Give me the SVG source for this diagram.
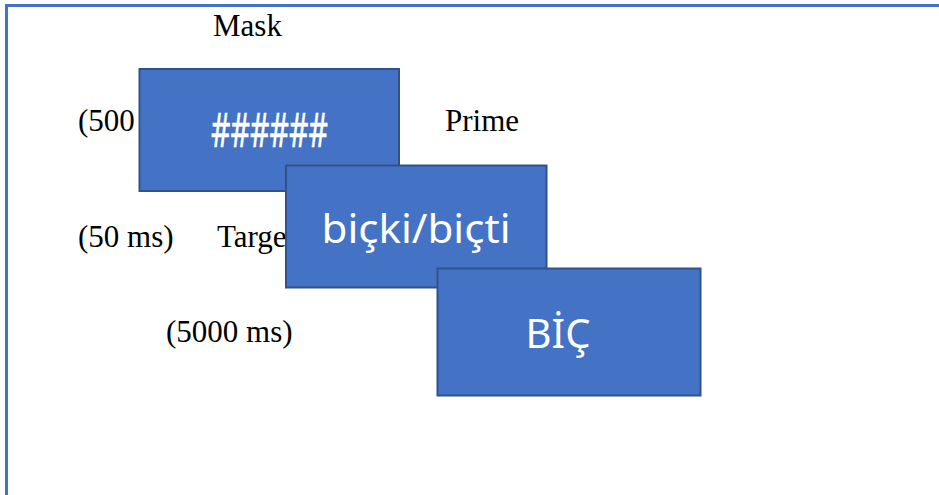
<svg xmlns="http://www.w3.org/2000/svg" width="939" height="495" viewBox="0 0 939 495">
<style>
.lbl{font-family:"Liberation Serif","Times New Roman",serif;font-size:31px;fill:#000}
.box{fill:#4472C4;stroke:#2F528F;stroke-width:2}
.bt{font-family:"Noto Sans","Open Sans",sans-serif;font-size:40px;fill:#fff;text-anchor:middle}
.frame{stroke:#4472C4;stroke-width:3;fill:none}
</style>
<rect width="939" height="495" fill="#fff"/>
<g id="frame">
<line class="frame" x1="5" y1="5.5" x2="939" y2="5.5"/>
<line class="frame" x1="6.5" y1="4" x2="6.5" y2="495"/>
</g>
<g id="labels">
<text class="lbl" x="213" y="36">Mask</text>
<text class="lbl" x="78" y="131">(500</text>
<text class="lbl" x="445" y="131">Prime</text>
<text class="lbl" x="78" y="247">(50 ms)</text>
<text class="lbl" x="217" y="247">Targe</text>
<text class="lbl" x="166" y="342">(5000 ms)</text>
</g>
<g id="mask">
<rect class="box" x="139.5" y="69" width="259.5" height="122"/>
<text class="bt" x="269.5" y="147" style="font-size:48px;stroke:#fff;stroke-width:0.6" textLength="117" lengthAdjust="spacingAndGlyphs">######</text>
</g>
<g id="prime">
<rect class="box" x="286" y="165.5" width="260.5" height="122"/>
<text class="bt" x="416" y="243" textLength="189" lengthAdjust="spacingAndGlyphs">biçki/biçti</text>
</g>
<g id="target">
<rect class="box" x="437.5" y="268.5" width="263" height="127"/>
<text class="bt" x="558" y="348">BİÇ</text>
</g>
<g id="connectors"/>
</svg>
